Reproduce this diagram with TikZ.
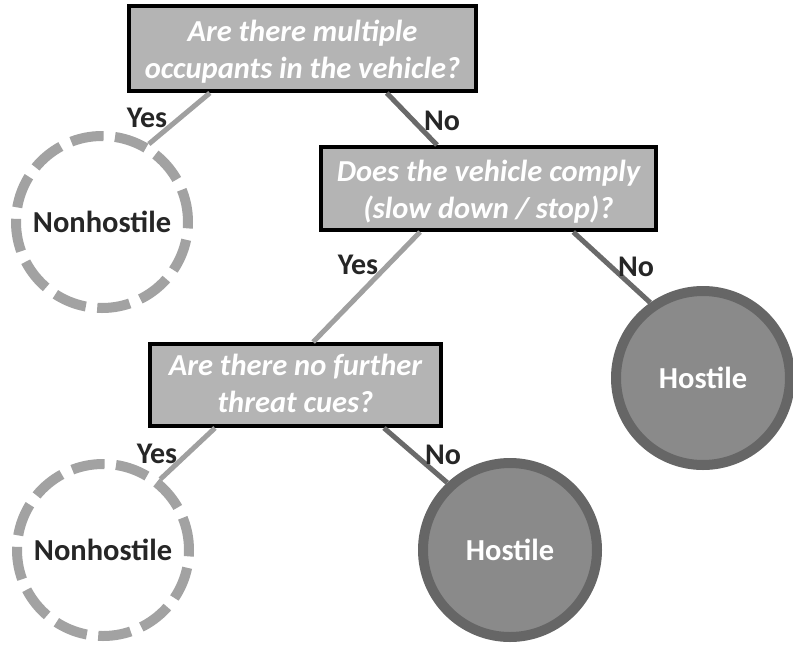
\documentclass[tikz,border=0pt]{standalone}
\usepackage{fontspec}
\setmainfont{Carlito}
\usetikzlibrary{calc}
\definecolor{boxfill}{HTML}{B4B4B4}
\definecolor{dashgray}{HTML}{A2A2A2}
\definecolor{hostfill}{HTML}{8A8A8A}
\definecolor{hostedge}{HTML}{666666}
\definecolor{yesline}{HTML}{A0A0A0}
\definecolor{noline}{HTML}{6A6A6A}
\newcommand{\qtext}[2]{\raisebox{-#1}[\height][\depth]{\begin{tabular}{@{}c@{}}#2\end{tabular}}}
\tikzset{
  question/.style={draw=black, line width=4pt, fill=boxfill, text=white,
    font=\fontsize{30.5}{37}\selectfont\bfseries\itshape, inner sep=0pt},
  nonhostile/.style={circle, draw=dashgray, line width=10pt, dash pattern=on 33pt off 11.5pt,
    minimum size=172pt, inner sep=0pt, text=black!85, font=\fontsize{30.5}{35}\selectfont\bfseries},
  hostile/.style={circle, draw=hostedge, fill=hostfill, line width=10pt,
    minimum size=174pt, inner sep=0pt, text=white, font=\fontsize{30.5}{35}\selectfont\bfseries},
  yesconn/.style={draw=yesline, line width=5pt},
  noconn/.style={draw=noline, line width=5pt},
  lbl/.style={font=\fontsize{30}{35}\selectfont\bfseries, text=black!85, inner sep=0pt}
}
\begin{document}
\begin{tikzpicture}[x=1pt, y=-1pt]
\useasboundingbox (0,0) rectangle (793,646);
% boxes
\node[question, minimum width=347pt, minimum height=85pt] (q1) at (302.5,48.5)
  {\qtext{4pt}{Are there multiple\\occupants in the vehicle?}};
\node[question, minimum width=335pt, minimum height=83pt] (q2) at (488.5,188.5)
  {\qtext{4pt}{Does the vehicle comply\\(slow down / stop)?}};
\node[question, minimum width=291pt, minimum height=82pt] (q3) at (295.5,385)
  {\qtext{2pt}{Are there no further\\threat cues?}};
% outcomes
\node[nonhostile] (n1) at (102,222) {Nonhostile};
\node[nonhostile] (n2) at (103,550) {Nonhostile};
\node[hostile] (h1) at (703,378) {Hostile};
\node[hostile] (h2) at (510,550) {Hostile};
% connectors
\draw[yesconn] ($(q1.south west)!0.236!(q1.south east)$) -- (n1.59);
\draw[noconn] ($(q1.south west)!0.74!(q1.south east)$) -- ($(q2.north west)!0.348!(q2.north east)$);
\draw[yesconn] ($(q2.south west)!0.298!(q2.south east)$) -- ($(q3.north west)!0.56!(q3.north east)$);
\draw[noconn] ($(q2.south west)!0.75!(q2.south east)$) -- (h1.125);
\draw[yesconn] ($(q3.south west)!0.227!(q3.south east)$) -- (n2.51);
\draw[noconn] ($(q3.south west)!0.80!(q3.south east)$) -- (h2.133);
% labels
\node[lbl] (l1) at (147,118) {Yes};
\node[lbl] (l2) at (442,121) {No};
\node[lbl] (l3) at (358,265) {Yes};
\node[lbl] (l4) at (636,267) {No};
\node[lbl] (l5) at (157,454) {Yes};
\node[lbl] (l6) at (443,455) {No};
\end{tikzpicture}
\end{document}
